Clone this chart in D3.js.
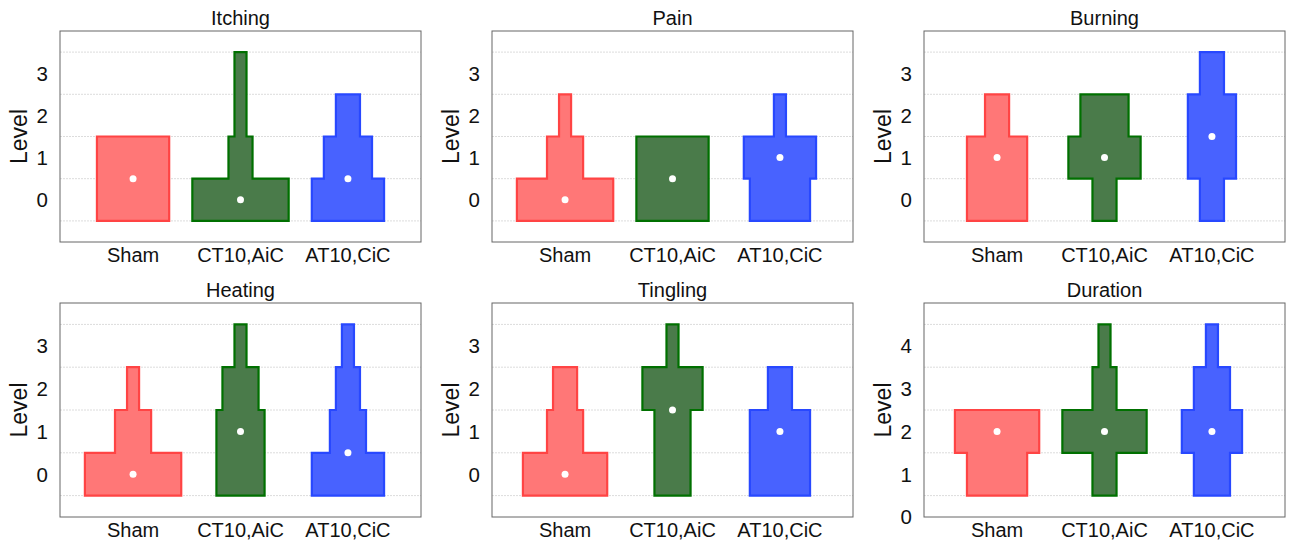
<!DOCTYPE html>
<html>
<head>
<meta charset="utf-8">
<script src="https://d3js.org/d3.v7.min.js"></script>
<style>
  body { margin: 0; background: #fff; }
  text { font-family: "Liberation Sans", Arial, sans-serif; fill: #111; }
</style>
</head>
<body>
<script>
// groups and symptom panels
var groups = ["Sham", "CT10,AiC", "AT10,CiC"];
var panelNames = ["Itching", "Pain", "Burning", "Heating", "Tingling", "Duration"];

// levels per panel (Duration is scored 1-4)
var levels0 = [0, 1, 2, 3];
var levels1 = [1, 2, 3, 4];

// number of subjects at each level, per group [Sham, CT10, AT10]
var itchingCounts  = [[6, 6, 0, 0], [8, 2, 1, 1], [6, 4, 2, 0]];
var painCounts     = [[8, 3, 1, 0], [6, 6, 0, 0], [5, 6, 1, 0]];
var burningCounts  = [[5, 5, 2, 0], [2, 6, 4, 0], [2, 4, 4, 2]];
var heatingCounts  = [[8, 3, 1, 0], [4, 4, 3, 1], [6, 3, 2, 1]];
var tinglingCounts = [[7, 3, 2, 0], [3, 3, 5, 1], [5, 5, 2, 0]];
var durationCounts = [[5, 7, 0, 0], [2, 7, 2, 1], [3, 5, 3, 1]];

var yTicks0 = [0, 1, 2, 3];
var yTicks1 = [0, 1, 2, 3, 4];

var panels = [
  {name: "Itching",  counts: itchingCounts,  levels: levels0, ymin: -1, ymax: 4, ticks: yTicks0},
  {name: "Pain",     counts: painCounts,     levels: levels0, ymin: -1, ymax: 4, ticks: yTicks0},
  {name: "Burning",  counts: burningCounts,  levels: levels0, ymin: -1, ymax: 4, ticks: yTicks0},
  {name: "Heating",  counts: heatingCounts,  levels: levels0, ymin: -1, ymax: 4, ticks: yTicks0},
  {name: "Tingling", counts: tinglingCounts, levels: levels0, ymin: -1, ymax: 4, ticks: yTicks0},
  {name: "Duration", counts: durationCounts, levels: levels1, ymin: 0,  ymax: 5, ticks: yTicks1}
];

var fills   = ["#ff7777", "#4a7b4a", "#4862ff"];
var strokes = ["#ff4444", "#007000", "#2848ff"];

var W = 1290, H = 541;
var svg = d3.select("body").append("svg").attr("width", W).attr("height", H);

var colX = [60, 492, 924], pw = 361;
var rowY = [[31, 242], [303, 517]];

panels.forEach(function(p, i) {
  var left = colX[i % 3], top = rowY[Math.floor(i / 3)][0], bottom = rowY[Math.floor(i / 3)][1];
  var g = svg.append("g");

  var x = d3.scaleLinear().domain([0.32, 3.68]).range([left, left + pw]);
  var y = d3.scaleLinear().domain([p.ymin, p.ymax]).range([bottom, top]);
  var w = d3.scaleLinear().domain([0, 12]).range([0, x(2.345) - x(1)]);

  // gridlines at bin edges
  var edges = p.levels.map(function(l) { return l - 0.5; }).concat([p.levels[p.levels.length - 1] + 0.5]);
  g.selectAll(".grid").data(edges).enter().append("line")
    .attr("x1", left).attr("x2", left + pw)
    .attr("y1", function(d) { return y(d); }).attr("y2", function(d) { return y(d); })
    .attr("stroke", "#dcdcdc").attr("stroke-width", 1).attr("stroke-dasharray", "2,1");

  // stepped distribution shapes
  var line = d3.line();
  groups.forEach(function(grp, gi) {
    var cx = x(gi + 1);
    var cnt = p.counts[gi];
    var right = [], leftSide = [], values = [];
    p.levels.forEach(function(l, li) {
      var c = cnt[li];
      if (c <= 0) return;
      for (var k = 0; k < c; k++) values.push(l);
      var hw = w(c) / 2;
      right.push([cx + hw, y(l - 0.5)], [cx + hw, y(l + 0.5)]);
      leftSide.push([cx - hw, y(l - 0.5)], [cx - hw, y(l + 0.5)]);
    });
    var pts = right.concat(leftSide.reverse());
    g.append("path")
      .attr("d", line(pts) + "Z")
      .attr("fill", fills[gi])
      .attr("stroke", strokes[gi])
      .attr("stroke-width", 2.2)
      .attr("stroke-linejoin", "miter");
    g.append("circle")
      .attr("cx", cx).attr("cy", y(d3.median(values)))
      .attr("r", 3.5).attr("fill", "#fff");
  });

  // frame
  g.append("rect").attr("x", left).attr("y", top).attr("width", pw).attr("height", bottom - top)
    .attr("fill", "none").attr("stroke", "#666").attr("stroke-width", 1);

  // y ticks
  g.selectAll(".yt").data(p.ticks).enter().append("text")
    .attr("x", left - 12).attr("y", function(d) { return y(d); })
    .attr("dy", "0.36em").attr("text-anchor", "end")
    .style("font-size", "20.5px").text(function(d) { return d; });

  // x labels
  g.selectAll(".xt").data(groups).enter().append("text")
    .attr("x", function(d, k) { return x(k + 1); }).attr("y", bottom + 20)
    .attr("text-anchor", "middle").style("font-size", "20px")
    .text(function(d) { return d; });

  // y label
  g.append("text")
    .attr("transform", "translate(" + (left - 33) + "," + ((top + bottom) / 2) + ") rotate(-90)")
    .attr("text-anchor", "middle").style("font-size", "23px").text("Level");

  // title
  g.append("text")
    .attr("x", left + pw / 2).attr("y", top - 6)
    .attr("text-anchor", "middle").style("font-size", "20px").text(p.name);
});
</script>
</body>
</html>
